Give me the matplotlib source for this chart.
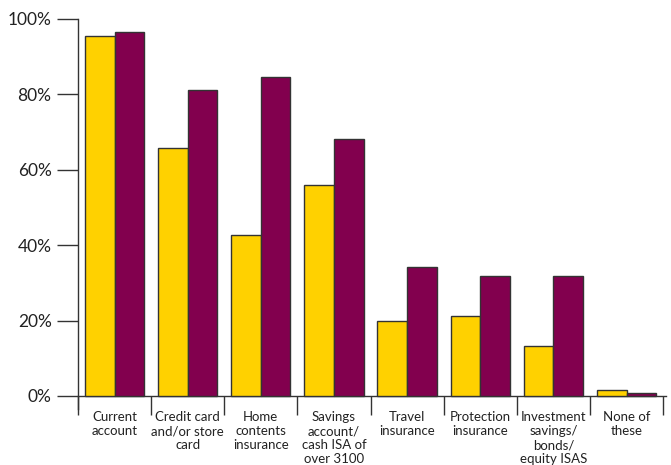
import matplotlib
matplotlib.use("Agg")
import matplotlib.pyplot as plt
import numpy as np

categories = [
    "Current\naccount",
    "Credit card\nand/or store\ncard",
    "Home\ncontents\ninsurance",
    "Savings\naccount/\ncash ISA of\nover 3100",
    "Travel\ninsurance",
    "Protection\ninsurance",
    "Investment\nsavings/\nbonds/\nequity ISAS",
    "None of\nthese",
]
series_a = [95.4, 65.9, 42.8, 56.0, 19.9, 21.1, 13.3, 1.6]
series_b = [96.6, 81.2, 84.6, 68.2, 34.3, 31.7, 31.7, 0.7]
y_ticks = [0, 20, 40, 60, 80, 100]
y_tick_labels = ["0%", "20%", "40%", "60%", "80%", "100%"]

YELLOW = "#FFD100"
PURPLE = "#82004E"
EDGE = "#333333"
TEXT = "#222222"

plt.rcParams["font.family"] = ["Lato", "DejaVu Sans"]

fig = plt.figure(figsize=(6.71, 4.65), dpi=100)
W, H = 671, 465
left, right, top, bottom = 78, 666, 19, 409
ax = fig.add_axes([left / W, 1 - bottom / H, (right - left) / W, (bottom - top) / H])

x = np.arange(len(categories))
bw = 0.405
off = 0.0
ax.bar(x - bw / 2 + off, series_a, width=bw, color=YELLOW, edgecolor=EDGE, linewidth=1, zorder=3)
ax.bar(x + bw / 2 + off, series_b, width=bw, color=PURPLE, edgecolor=EDGE, linewidth=1, zorder=3)

ax.set_xlim(-0.5, 7.54)
ymin = -(bottom - 396) / ((396 - top) / 100)
ax.set_ylim(ymin, 100)

for s in ["top", "right"]:
    ax.spines[s].set_visible(False)
ax.spines["left"].set_color(EDGE)
ax.spines["left"].set_linewidth(1)
ax.spines["bottom"].set_position(("data", 0))
ax.spines["bottom"].set_color(EDGE)
ax.spines["bottom"].set_linewidth(1)

ax.set_yticks(y_ticks)
ax.set_yticklabels(y_tick_labels, fontsize=12.5, color=TEXT)
ax.tick_params(axis="y", direction="out", length=15, width=1, color=EDGE, pad=4)

# group separators as major ticks, category names as minor tick labels
ax.set_xticks(np.arange(len(categories) + 1) - 0.5)
ax.set_xticklabels([])
ax.tick_params(axis="x", which="major", direction="out", length=14, width=1, color=EDGE)
ax.set_xticks(x, minor=True)
ax.set_xticklabels(categories, minor=True, fontsize=9.5, color=TEXT, linespacing=1.2)
ax.tick_params(axis="x", which="minor", length=0, pad=11)

fig.savefig("out.png", dpi=100)
